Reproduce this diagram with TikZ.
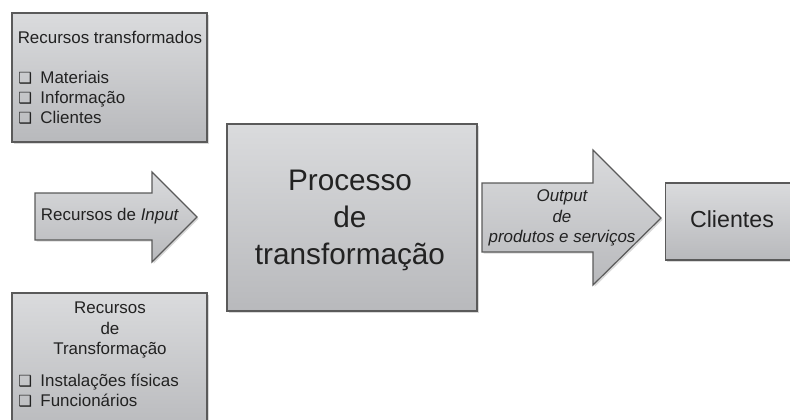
\documentclass[tikz,border=0pt]{standalone}
\usepackage{fontspec}
\setmainfont{Liberation Sans}
\newfontfamily\symfont{DejaVu Sans}
\usetikzlibrary{shadows}
\definecolor{BoxTop}{HTML}{DADBDD}
\definecolor{BoxBot}{HTML}{B8B9BC}
\definecolor{Rim}{HTML}{5A5A5A}
\definecolor{Ink}{HTML}{222222}
\newcommand{\chkbox}{{\symfont\bfseries\fontsize{11.5}{12}\selectfont ❑}\hspace{0.5em}}
\tikzset{
  stockbox/.style={
    draw=Rim, line width=0.9pt, top color=BoxTop, bottom color=BoxBot,
    drop shadow={shadow xshift=1.3pt, shadow yshift=-1.3pt, opacity=0.3},
    inner sep=0pt
  },
  flowarrow/.style={
    draw=Rim, line width=0.9pt, top color=BoxTop, bottom color=BoxBot,
    drop shadow={shadow xshift=1.3pt, shadow yshift=-1.3pt, opacity=0.3}
  },
  body/.style={text=Ink, inner sep=0pt, font=\fontsize{12.7}{15}\selectfont},
  bigbody/.style={text=Ink, inner sep=0pt, align=center}
}

\begin{document}
\begin{tikzpicture}[x=0.75pt, y=-0.75pt]
    \useasboundingbox (0,0) rectangle (790,419);
    % recursos transformados
    \node[stockbox, minimum width=146.25pt, minimum height=96.75pt] (rtr) at (109.5,77.5) {};
    \node[body] (rtrtitle) at (110,37) {Recursos transformados};
    \node[body, align=left, anchor=west] (rtrlist) at (18,98)
      {\chkbox Materiais\\ \chkbox Informação\\ \chkbox Clientes};
    % recursos de transformacao
    \node[stockbox, minimum width=146.25pt, minimum height=106.5pt] (rtf) at (109.5,364) {};
    \node[body, align=center, font=\fontsize{12.7}{15.4}\selectfont] (rtftitle) at (110,330)
      {Recursos\\de\\Transformação};
    \node[body, align=left, anchor=west, font=\fontsize{12.7}{15.4}\selectfont] (rtflist) at (18,390.5)
      {\chkbox Instalações físicas\\ \chkbox Funcionários};
    % processo
    \node[stockbox, minimum width=187.5pt, minimum height=140.25pt] (proc) at (352,217.5) {};
    \node[bigbody, font=\fontsize{22.3}{27.8}\selectfont] (proctxt) at (350,220)
      {Processo\\de\\transformação};
    % clientes
    \node[stockbox, minimum width=101.25pt, minimum height=57.75pt, anchor=west] (cli) at (665,221.5) {};
    \node[bigbody, font=\fontsize{17.4}{20}\selectfont] (clitxt) at (732,219) {Clientes};
    % setas
    \path[flowarrow] (35,193) -- (152,193) -- (152,172) -- (197,217)
      -- (152,262) -- (152,240) -- (35,240) -- cycle;
    \node[body] (intxt) at (110,216) {Recursos de \textit{Input}};
    \path[flowarrow] (482,183) -- (593,183) -- (593,150) -- (661,218)
      -- (593,285) -- (593,252) -- (482,252) -- cycle;
    \node[body, align=center, font=\fontsize{12.7}{15.4}\itshape] (outtxt) at (562,218)
      {Output\\de\\produtos e serviços};
\end{tikzpicture}
\end{document}
